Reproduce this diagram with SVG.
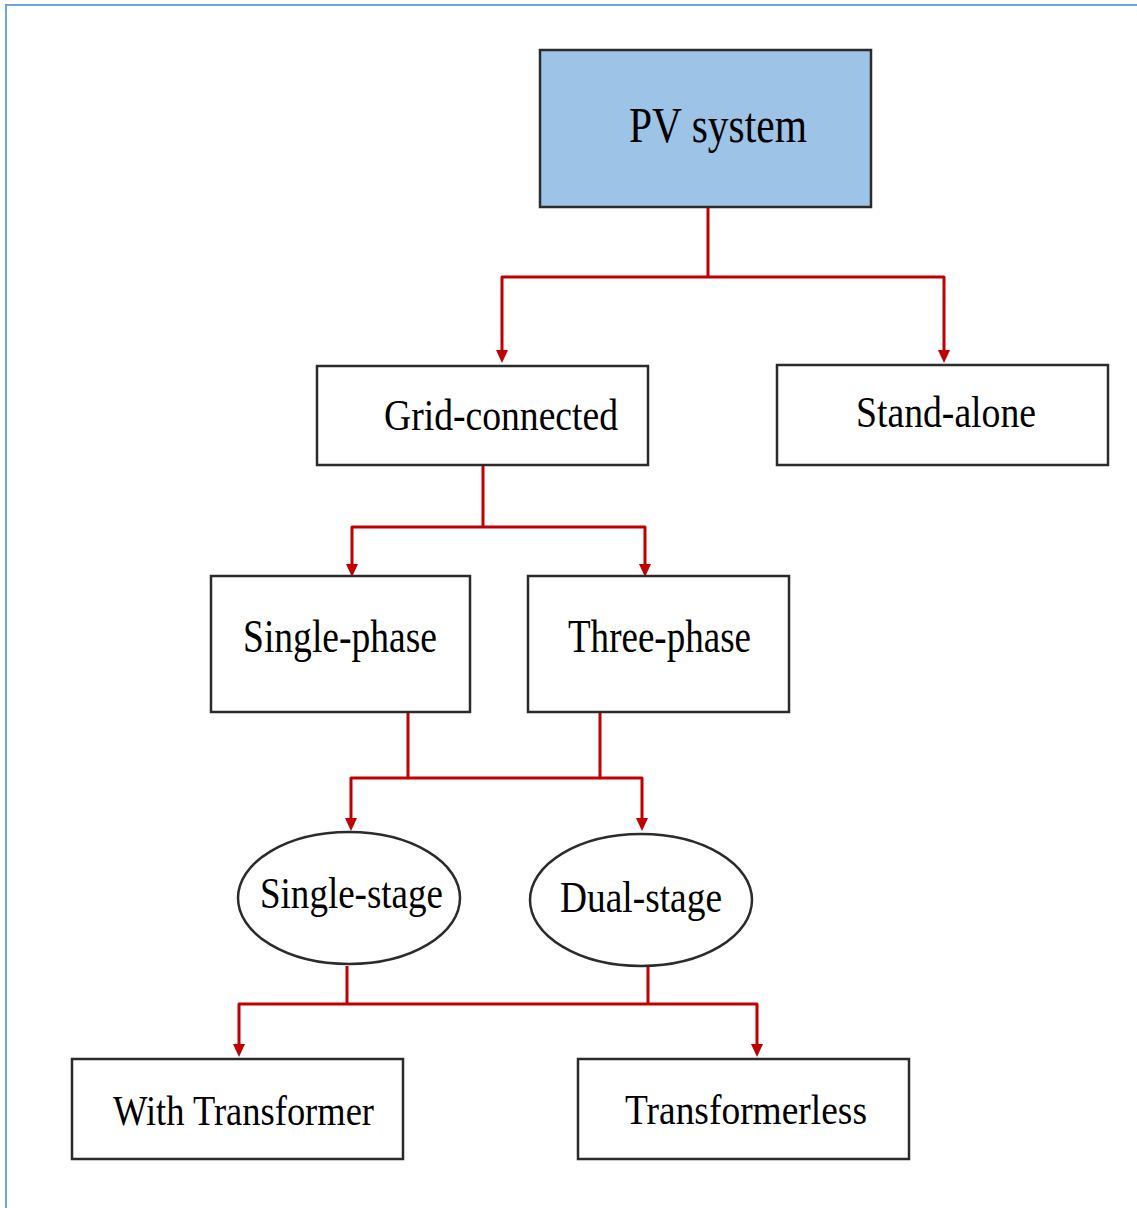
<svg xmlns="http://www.w3.org/2000/svg" width="1137" height="1208" viewBox="0 0 1137 1208">
<style>
.box{fill:#ffffff;stroke:#2b2b2b;stroke-width:2.5}
.root{fill:#9DC3E6;stroke:#2b2b2b;stroke-width:2.5}
.lbl{font-family:"Liberation Serif","Times New Roman",serif;fill:#000000}
.con{fill:none;stroke:#C00000;stroke-width:3;stroke-linejoin:round}
.head{fill:#C00000}
.frame{fill:none;stroke:#6FA4DC;stroke-width:2}
</style>
<rect width="1137" height="1208" fill="#ffffff"/>
<path class="frame" d="M6,1208 V5 H1137"/>
<g id="connectors">
<path class="con" d="M708,208 V277"/>
<path class="con" d="M502,351 V277 H944 V351"/>
<path class="con" d="M483,465 V527"/>
<path class="con" d="M352,565 V527 H645 V565"/>
<path class="con" d="M408,712 V778"/>
<path class="con" d="M600,712 V778"/>
<path class="con" d="M351,819 V778 H642 V819"/>
<path class="con" d="M347,966 V1004"/>
<path class="con" d="M648,966 V1004"/>
<path class="con" d="M239,1045 V1004 H757 V1045"/>
<path class="head" d="M496,350 H508 L502,363 Z"/>
<path class="head" d="M938,350 H950 L944,363 Z"/>
<path class="head" d="M346,564 H358 L352,577 Z"/>
<path class="head" d="M639,564 H651 L645,577 Z"/>
<path class="head" d="M345,818 H357 L351,831 Z"/>
<path class="head" d="M636,818 H648 L642,831 Z"/>
<path class="head" d="M233,1044 H245 L239,1057 Z"/>
<path class="head" d="M751,1044 H763 L757,1057 Z"/>
</g>
<g id="pv-system">
<rect class="root" x="540" y="50" width="331" height="157"/>
<text class="lbl" x="629" y="142" font-size="50" textLength="178" lengthAdjust="spacingAndGlyphs">PV system</text>
</g>
<g id="grid-connected">
<rect class="box" x="317" y="366" width="331" height="99"/>
<text class="lbl" x="384" y="430" font-size="44" textLength="234" lengthAdjust="spacingAndGlyphs">Grid-connected</text>
</g>
<g id="stand-alone">
<rect class="box" x="777" y="365" width="331" height="100"/>
<text class="lbl" x="856" y="427" font-size="44" textLength="180" lengthAdjust="spacingAndGlyphs">Stand-alone</text>
</g>
<g id="single-phase">
<rect class="box" x="211" y="576" width="259" height="136"/>
<text class="lbl" x="243" y="652" font-size="46" textLength="194" lengthAdjust="spacingAndGlyphs">Single-phase</text>
</g>
<g id="three-phase">
<rect class="box" x="528" y="576" width="261" height="136"/>
<text class="lbl" x="568" y="652" font-size="46" textLength="183" lengthAdjust="spacingAndGlyphs">Three-phase</text>
</g>
<g id="single-stage">
<ellipse class="box" cx="349" cy="898" rx="111" ry="66"/>
<text class="lbl" x="260" y="908" font-size="44" textLength="183" lengthAdjust="spacingAndGlyphs">Single-stage</text>
</g>
<g id="dual-stage">
<ellipse class="box" cx="641" cy="900" rx="111" ry="66"/>
<text class="lbl" x="560" y="912" font-size="44" textLength="162" lengthAdjust="spacingAndGlyphs">Dual-stage</text>
</g>
<g id="with-transformer">
<rect class="box" x="72" y="1059" width="331" height="100"/>
<text class="lbl" x="113" y="1125" font-size="42" textLength="261" lengthAdjust="spacingAndGlyphs">With Transformer</text>
</g>
<g id="transformerless">
<rect class="box" x="578" y="1059" width="331" height="100"/>
<text class="lbl" x="625" y="1124" font-size="42" textLength="242" lengthAdjust="spacingAndGlyphs">Transformerless</text>
</g>
</svg>
